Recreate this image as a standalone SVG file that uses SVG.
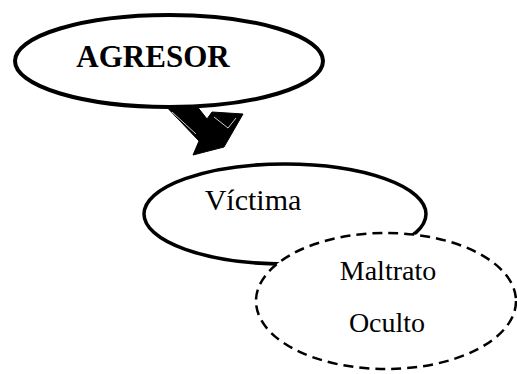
<svg xmlns="http://www.w3.org/2000/svg" width="517" height="374" viewBox="0 0 517 374">
<style>
.node{fill:#fff;stroke:#000}
.solid{stroke-width:4}
.dashed{stroke-width:2.5;stroke-dasharray:10 6}
text{font-family:"Liberation Serif","Times New Roman",serif;fill:#000;text-anchor:middle}
</style>
<rect width="517" height="374" fill="#fff"/>
<g id="connectors">
<polygon points="160,100 192,100 207,119 212,112 243,114 224,147 193,155 199,141" fill="#000" stroke="#000" stroke-width="1" stroke-linejoin="round"/>
<polyline points="172,112 196,134" fill="none" stroke="#fff" stroke-width="0.8"/>
<polyline points="214,117 228,128 236,118" fill="none" stroke="#fff" stroke-width="0.8"/>
</g>
<g id="agresor">
<ellipse class="node solid" cx="169" cy="61" rx="154" ry="46"/>
<text x="153" y="67" font-size="31" font-weight="bold">AGRESOR</text>
</g>
<g id="victima">
<ellipse class="node" cx="285" cy="214" rx="141" ry="50" stroke-width="3.5"/>
<text x="253" y="210" font-size="30">Víctima</text>
</g>
<g id="maltrato">
<ellipse class="node dashed" cx="386" cy="301" rx="130" ry="68"/>
<text x="388" y="280" font-size="28">Maltrato</text>
<text x="387" y="332" font-size="28">Oculto</text>
</g>
</svg>
